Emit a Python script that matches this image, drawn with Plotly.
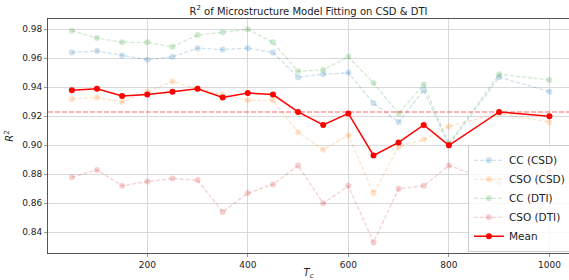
import plotly.graph_objects as go

tc = [50, 100, 150, 200, 250, 300, 350, 400, 450, 500, 550, 600, 650, 700, 750, 800, 900, 1000]
cc_csd = [0.964, 0.965, 0.962, 0.959, 0.961, 0.967, 0.966, 0.967, 0.964, 0.947, 0.949, 0.950, 0.929, 0.916, 0.938, 0.900, 0.947, 0.937]
cso_csd = [0.932, 0.933, 0.930, 0.937, 0.944, 0.939, 0.935, 0.931, 0.931, 0.909, 0.897, 0.907, 0.867, 0.899, 0.904, 0.913, 0.922, 0.916]
cc_dti = [0.979, 0.974, 0.971, 0.971, 0.968, 0.976, 0.978, 0.980, 0.971, 0.951, 0.952, 0.961, 0.943, 0.922, 0.942, 0.901, 0.949, 0.945]
cso_dti = [0.878, 0.883, 0.872, 0.875, 0.877, 0.876, 0.854, 0.867, 0.873, 0.886, 0.860, 0.872, 0.833, 0.870, 0.872, 0.886, 0.874, 0.882]
mean_vals = [0.938, 0.939, 0.934, 0.935, 0.937, 0.939, 0.933, 0.936, 0.935, 0.923, 0.914, 0.922, 0.893, 0.902, 0.914, 0.900, 0.923, 0.920]
overall_mean = 0.923

series = [
    ("CC (CSD)", cc_csd, "rgba(31,119,180,0.22)"),
    ("CSO (CSD)", cso_csd, "rgba(255,127,14,0.22)"),
    ("CC (DTI)", cc_dti, "rgba(44,160,44,0.22)"),
    ("CSO (DTI)", cso_dti, "rgba(214,39,40,0.22)"),
]

fig = go.Figure()
for name, vals, col in series:
    fig.add_trace(go.Scatter(
        x=tc, y=vals, name=name, mode="lines+markers",
        line=dict(color=col, width=1.3, dash="4px,2px"),
        marker=dict(color=col, size=6),
    ))
fig.add_trace(go.Scatter(
    x=tc, y=mean_vals, name="Mean", mode="lines+markers",
    line=dict(color="#ff0000", width=1.5),
    marker=dict(color="#ff0000", size=6),
))
fig.add_shape(type="line", xref="paper", yref="y", x0=0, x1=1,
              y0=overall_mean, y1=overall_mean,
              line=dict(color="rgba(255,0,0,0.4)", width=1.5, dash="5px,2px"))

axis_common = dict(
    showgrid=True, gridcolor="#d9d9d9", gridwidth=1,
    showline=True, linecolor="#555", linewidth=1, mirror=True,
    ticks="outside", ticklen=3, tickcolor="#999", tickwidth=1,
    zeroline=False, tickfont=dict(size=9, color="#222"),
    automargin=False,
)

fig.update_layout(
    width=569, height=280,
    margin=dict(l=48, r=0, t=19, b=27, autoexpand=False),
    paper_bgcolor="white", plot_bgcolor="white",
    font=dict(family="DejaVu Sans", size=10, color="#222"),
    title=dict(text="R<sup>2</sup> of Microstructure Model Fitting on CSD &amp; DTI",
               x=0.5, xref="paper", xanchor="center", y=0.973, yref="container", yanchor="top",
               font=dict(size=10, color="#222")),
    xaxis=dict(range=[2.5, 1039], tickvals=[200, 400, 600, 800, 1000],
               title=dict(text="<i>T</i><sub><i>c</i></sub>", standoff=0, font=dict(size=10)),
               **axis_common),
    yaxis=dict(range=[0.8257, 0.9871], tickvals=[0.84, 0.86, 0.88, 0.90, 0.92, 0.94, 0.96, 0.98],
               tickformat=".2f",
               title=dict(text="<i>R</i><sup>2</sup>", standoff=6, font=dict(size=10)),
               **axis_common),
    legend=dict(x=0.806, y=0.005, xanchor="left", yanchor="bottom",
                bgcolor="rgba(255,255,255,0.8)", bordercolor="#ccc", borderwidth=1,
                font=dict(size=10.5, color="#222"), tracegroupgap=0, itemwidth=30),
    showlegend=True,
)
fig.write_html("out.html", config={"displayModeBar": False},
               post_script="document.body.style.margin='0';document.body.style.overflow='hidden';")
